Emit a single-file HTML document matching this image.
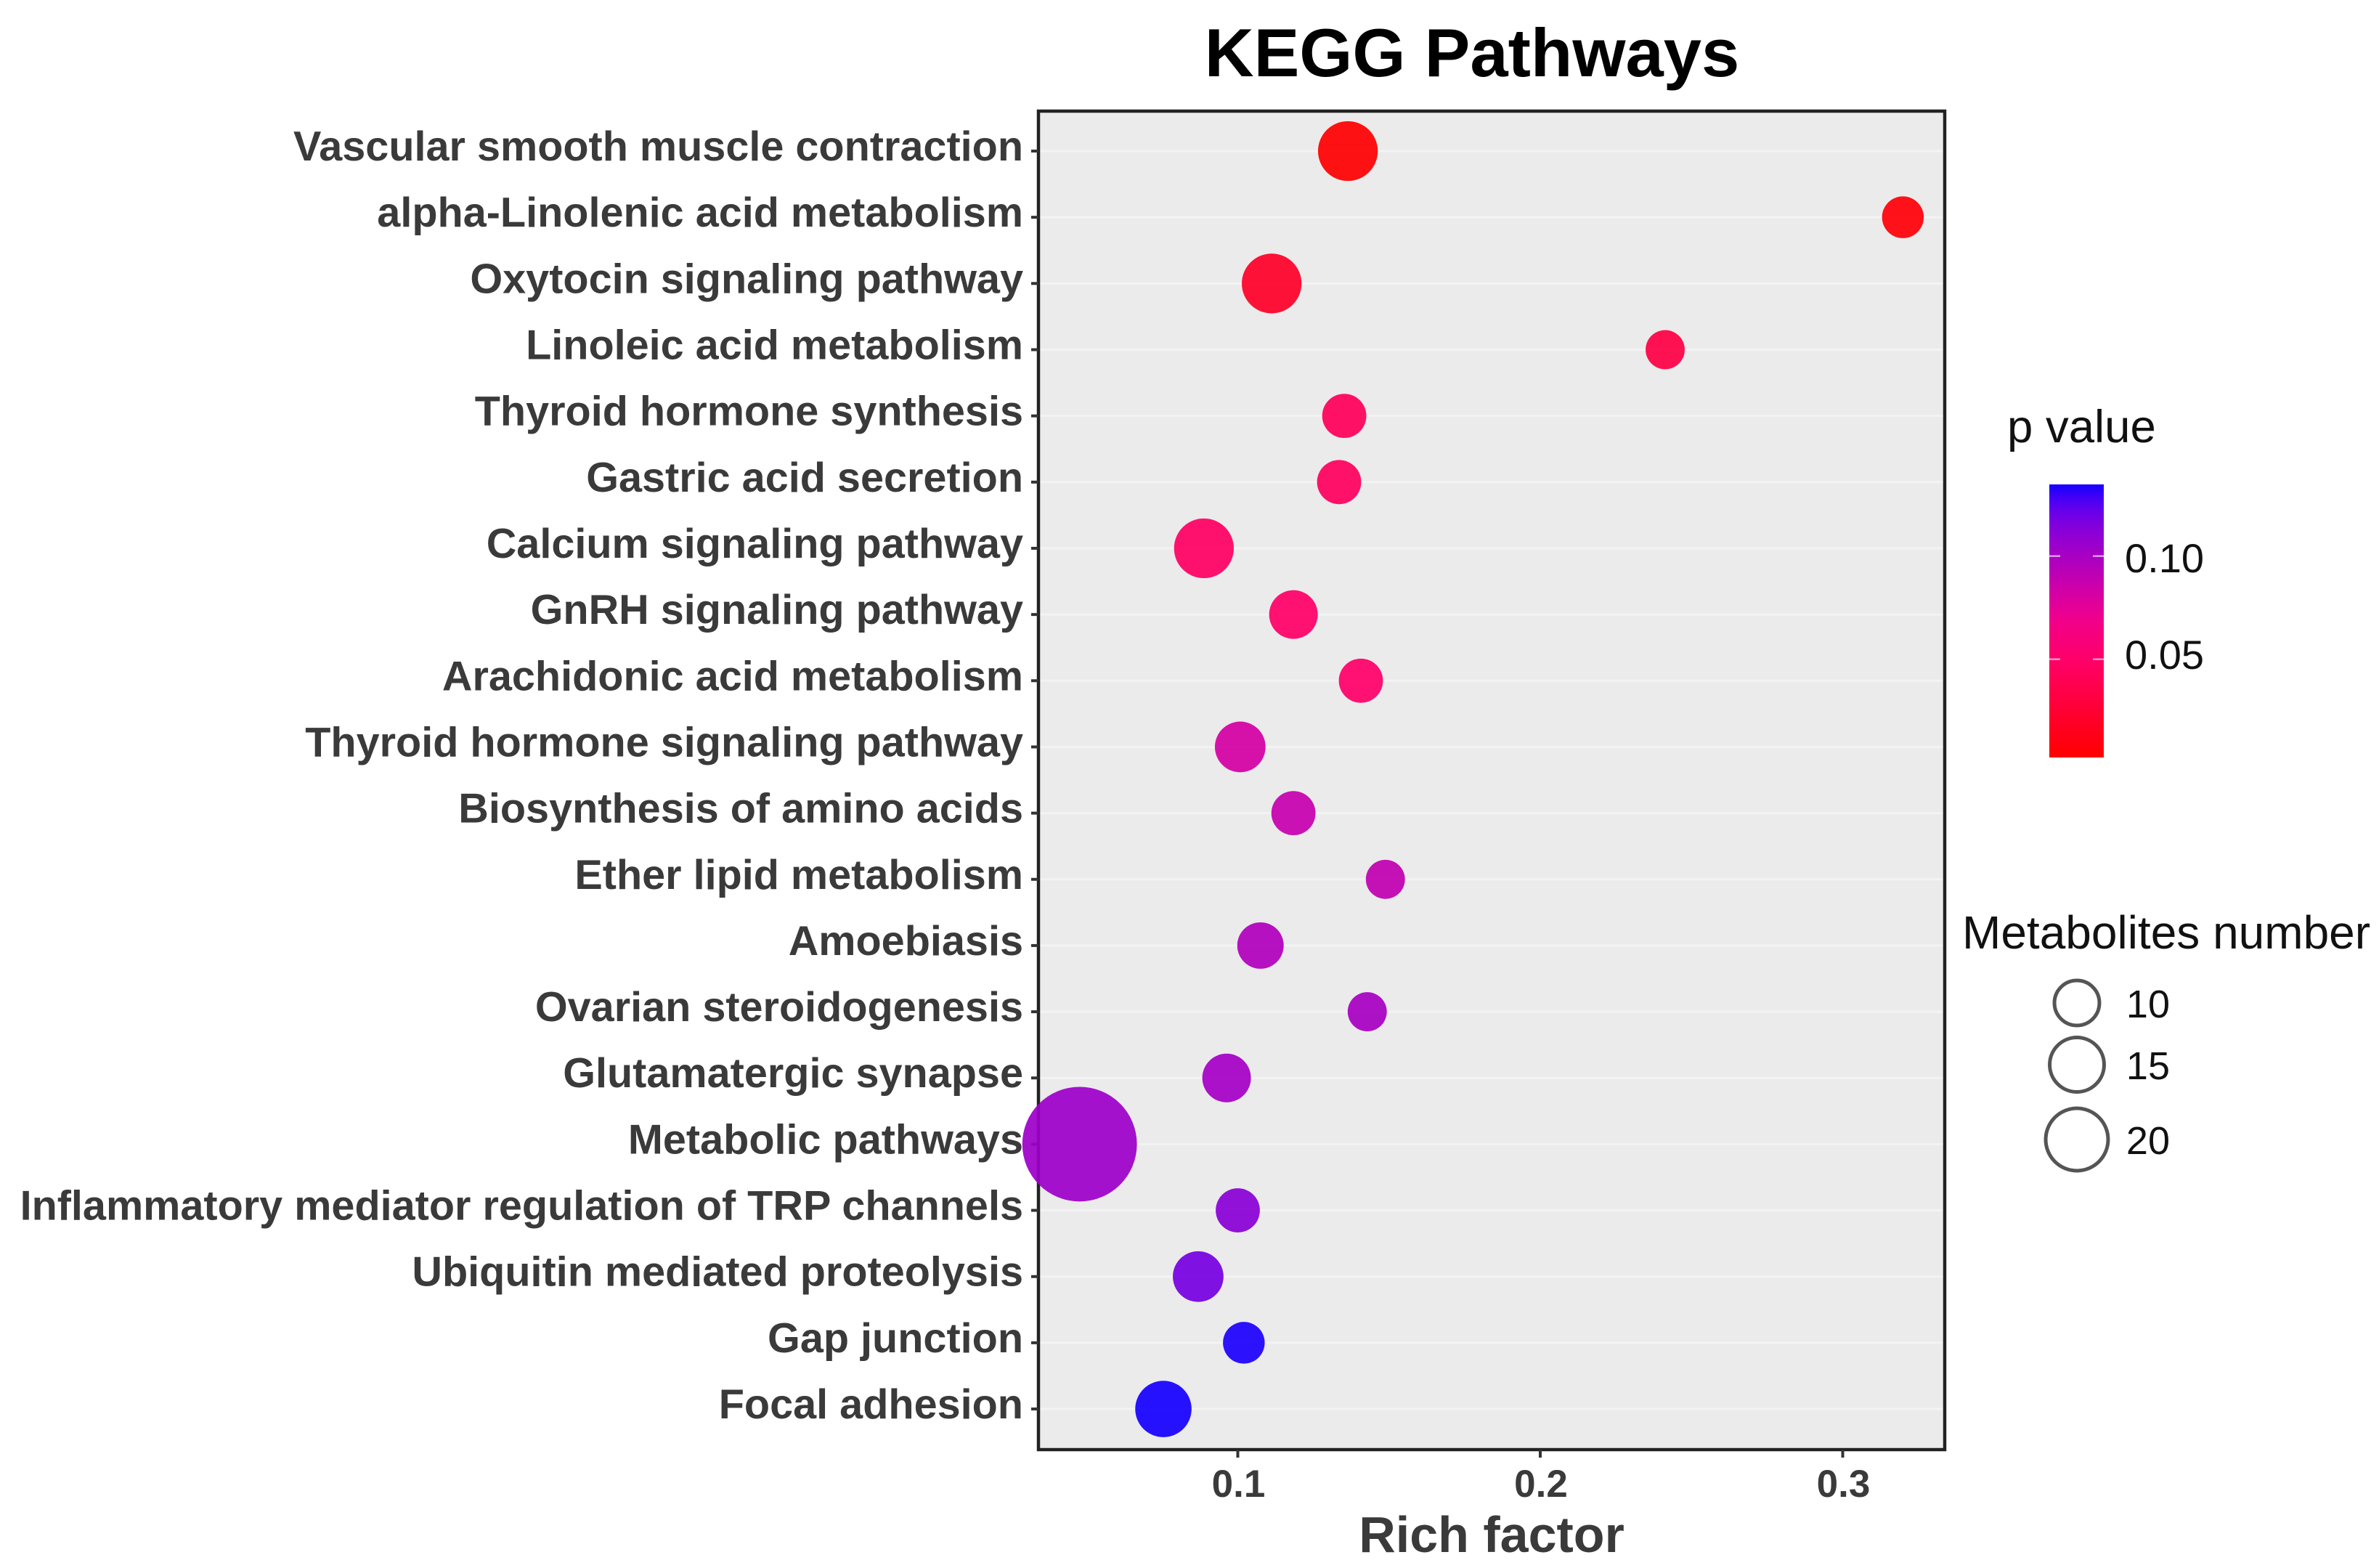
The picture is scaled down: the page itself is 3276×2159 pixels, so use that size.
<!DOCTYPE html>
<html lang="en">
<head>
<meta charset="utf-8">
<title>KEGG Pathways</title>
<style>
html,body{margin:0;padding:0;background:#fff;}
svg{display:block;font-family:"Liberation Sans",sans-serif;}
</style>
</head>
<body>
<svg id="chart" xmlns="http://www.w3.org/2000/svg" width="3276" height="2159" viewBox="0 0 3276 2159">
  <defs>
    <linearGradient id="pvalue-gradient" x1="0" y1="1" x2="0" y2="0"></linearGradient>
  </defs>
  <rect x="0" y="0" width="3276" height="2159" fill="#fff"/>
  <text x="2027" y="105" text-anchor="middle" font-size="94" font-weight="700" fill="#000">KEGG Pathways</text>
  <rect x="1430" y="153" width="1248" height="1843" fill="#ebebeb"/>
  <g id="grid"></g>
  <rect x="1430" y="153" width="1248" height="1843" fill="none" stroke="#222" stroke-width="4.5"/>
  <g id="y-axis"></g>
  <g id="x-axis"></g>
  <g id="points"></g>
  <text x="2054" y="2137" text-anchor="middle" font-size="70" font-weight="700" fill="#3a3a3a">Rich factor</text>
  <text x="2764" y="609" font-size="63.5" fill="#111">p value</text>
  <rect id="colorbar" x="2822" y="667" width="75" height="376" fill="url(#pvalue-gradient)"/>
  <g id="color-legend"></g>
  <text x="2702" y="1306" font-size="64" fill="#111">Metabolites number</text>
  <g id="size-legend"></g>
</svg>
<script>
const categories = [
  "Vascular smooth muscle contraction",
  "alpha-Linolenic acid metabolism",
  "Oxytocin signaling pathway",
  "Linoleic acid metabolism",
  "Thyroid hormone synthesis",
  "Gastric acid secretion",
  "Calcium signaling pathway",
  "GnRH signaling pathway",
  "Arachidonic acid metabolism",
  "Thyroid hormone signaling pathway",
  "Biosynthesis of amino acids",
  "Ether lipid metabolism",
  "Amoebiasis",
  "Ovarian steroidogenesis",
  "Glutamatergic synapse",
  "Metabolic pathways",
  "Inflammatory mediator regulation of TRP channels",
  "Ubiquitin mediated proteolysis",
  "Gap junction",
  "Focal adhesion"
];
const richFactor = [0.1364, 0.3199, 0.1112, 0.2413, 0.1352, 0.1335, 0.0888, 0.1184, 0.1407, 0.1008, 0.1184, 0.1488, 0.1075, 0.1428, 0.0963, 0.0477, 0.1000, 0.0869, 0.1020, 0.0754];
const pValues = [0.003, 0.006, 0.020, 0.033, 0.043, 0.045, 0.047, 0.049, 0.050, 0.082, 0.088, 0.090, 0.096, 0.100, 0.101, 0.104, 0.112, 0.118, 0.1335, 0.1345];
const metabolites = [16, 7, 16, 6, 8, 8, 16, 10, 8, 11, 8, 6, 9, 6, 10, 66, 8, 11, 7, 14];
const xTickValues = [0.1, 0.2, 0.3];
const xTickLabels = ["0.1", "0.2", "0.3"];
const pTickValues = [0.10, 0.05];
const pTickLabels = ["0.10", "0.05"];
const pRange = [0.0025, 0.1348];
const colorStopP = [0.0025, 0.02, 0.05, 0.07, 0.085, 0.10, 0.115, 0.125, 0.1348];
const colorStopRed = [255, 255, 255, 240, 205, 168, 130, 90, 20];
const colorStopBlue = [0, 40, 105, 140, 170, 195, 220, 240, 255];
const sizeLegendValues = [10, 15, 20];
const sizeLegendLabels = ["10", "15", "20"];

const SVGNS = "http://www.w3.org/2000/svg";
function make(tag, attrs, parent, text) {
  const el = document.createElementNS(SVGNS, tag);
  for (const k in attrs) el.setAttribute(k, attrs[k]);
  if (text !== undefined) el.textContent = text;
  parent.appendChild(el);
  return el;
}

// axis functions
function xScale(v) { return 1704.5 + (v - 0.1) * 4165; }
function yScale(i) { return 208 + i * 91.16; }
function radius(n) { return 4.5 + 9.16 * Math.sqrt(n); }
function pScale(p) { return 1049.7 - p * 2840; }
function pLabelY(p) { return 788 + (0.1 - p) * 2660; }

function sample(stops, p) {
  const last = colorStopP.length - 1;
  if (p <= colorStopP[0]) return stops[0];
  if (p >= colorStopP[last]) return stops[last];
  let k = 0;
  while (p > colorStopP[k + 1]) k++;
  const f = (p - colorStopP[k]) / (colorStopP[k + 1] - colorStopP[k]);
  return stops[k] + (stops[k + 1] - stops[k]) * f;
}
function colorScale(p) {
  return "rgb(" + Math.round(sample(colorStopRed, p)) + ",0," + Math.round(sample(colorStopBlue, p)) + ")";
}

const gridG = document.getElementById("grid");
const yAxisG = document.getElementById("y-axis");
const xAxisG = document.getElementById("x-axis");
const pointsG = document.getElementById("points");
const colorLegendG = document.getElementById("color-legend");
const sizeLegendG = document.getElementById("size-legend");
const gradient = document.getElementById("pvalue-gradient");

categories.forEach(function (name, i) {
  const y = yScale(i);
  const line = make("line", { x1: 1432, x2: 2676, y1: y, y2: y, stroke: "#f3f3f3", "stroke-width": 3 }, gridG);
  
  
  const tick = make("line", { x1: 1420, x2: 1430, y1: y, y2: y, stroke: "#333", "stroke-width": 4 }, yAxisG);
  
  
  const label = make("text", { x: 1409, y: y + 13, "text-anchor": "end", "font-size": 57.6, "font-weight": 700, fill: "#3a3a3a" }, yAxisG, name);
  
  
});

xTickValues.forEach(function (v, i) {
  const x = xScale(v);
  const tick = make("line", { x1: x, x2: x, y1: 1996, y2: 2007, stroke: "#333", "stroke-width": 4 }, xAxisG);
  
  
  const label = make("text", { x: x + 1, y: 2061, "text-anchor": "middle", "font-size": 53, "font-weight": 700, fill: "#3a3a3a" }, xAxisG, xTickLabels[i]);
  
  
});

categories.forEach(function (name, i) {
  const dot = make("circle", {
    cx: xScale(richFactor[i]),
    cy: yScale(i),
    r: radius(metabolites[i]),
    fill: colorScale(pValues[i]),
    "fill-opacity": 0.93
  }, pointsG);
  
  
});

// colourbar gradient is sampled through the same colour scale
const gradientSteps = 32;
for (let s = 0; s <= gradientSteps; s++) {
  const f = s / gradientSteps;
  make("stop", { offset: f, "stop-color": colorScale(pRange[0] + f * (pRange[1] - pRange[0])) }, gradient);
}

pTickValues.forEach(function (v, i) {
  const y = pScale(v);
  const left = make("line", { x1: 2822, x2: 2837, y1: y, y2: y, stroke: "#fff", "stroke-opacity": 0.6, "stroke-width": 2.5 }, colorLegendG);
  
  
  const right = make("line", { x1: 2882, x2: 2897, y1: y, y2: y, stroke: "#fff", "stroke-opacity": 0.6, "stroke-width": 2.5 }, colorLegendG);
  
  
  const label = make("text", { x: 2926, y: pLabelY(v), "font-size": 56, fill: "#111" }, colorLegendG, pTickLabels[i]);
  
  
});

const legendRowY = [1381, 1466, 1569];
sizeLegendValues.forEach(function (n, i) {
  const ring = make("circle", { cx: 2860, cy: legendRowY[i], r: radius(n) - 2.5, fill: "#fff", stroke: "#555", "stroke-width": 5 }, sizeLegendG);
  
  
  const label = make("text", { x: 2988, y: legendRowY[i] + 20, "text-anchor": "end", "font-size": 54, fill: "#111" }, sizeLegendG, sizeLegendLabels[i]);
  
  
});
</script>
</body>
</html>
